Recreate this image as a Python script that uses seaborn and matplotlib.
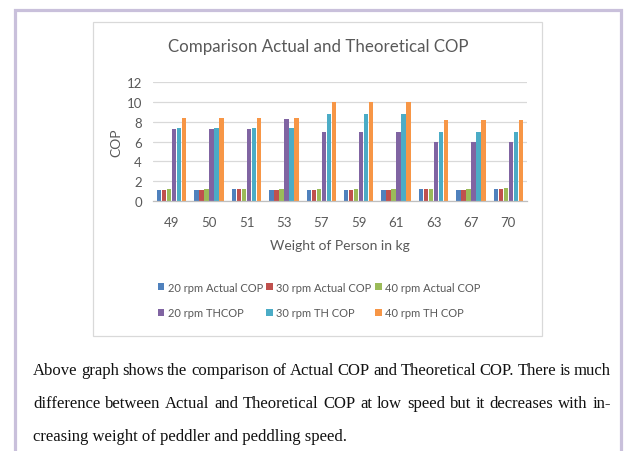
import matplotlib
matplotlib.use("Agg")
import matplotlib.pyplot as plt
import seaborn as sns
import pandas as pd
from matplotlib.patches import Rectangle, Patch

weights = ["49", "50", "51", "53", "57", "59", "61", "63", "67", "70"]
act20 = [1.1, 1.1, 1.2, 1.1, 1.1, 1.1, 1.1, 1.2, 1.1, 1.2]
act30 = [1.1, 1.1, 1.2, 1.1, 1.1, 1.1, 1.1, 1.2, 1.1, 1.2]
act40 = [1.2, 1.2, 1.25, 1.2, 1.2, 1.2, 1.2, 1.2, 1.2, 1.3]
th20 = [7.3, 7.3, 7.3, 8.3, 7.0, 7.0, 7.0, 6.0, 6.0, 6.0]
th30 = [7.4, 7.4, 7.4, 7.4, 8.8, 8.8, 8.8, 7.0, 7.0, 7.0]
th40 = [8.4, 8.4, 8.4, 8.4, 10.0, 10.0, 10.0, 8.2, 8.2, 8.2]
series_names = ["20 rpm Actual COP", "30 rpm Actual COP", "40 rpm Actual COP",
                "20 rpm THCOP", "30 rpm TH COP", "40 rpm TH COP"]
colors = ["#4F81BD", "#C0504D", "#9BBB59", "#8064A2", "#4BACC6", "#F79646"]
yticks = [0, 2, 4, 6, 8, 10, 12]
title = "Comparison Actual and Theoretical COP"
xlabel = "Weight of Person in kg"
ylabel = "COP"
para = ["Above graph shows the comparison of Actual COP and Theoretical COP. There is much",
        "difference between Actual and Theoretical COP at low speed but it decreases with in-",
        "creasing weight of peddler and peddling speed."]

series_values = [act20, act30, act40, th20, th30, th40]
rows = []
for name, vals in zip(series_names, series_values):
    for w, v in zip(weights, vals):
        rows.append({"Weight": w, "COP": v, "Series": name})
df = pd.DataFrame(rows)

sns.set_style("white")
CHART_FONT = ["Lato", "DejaVu Sans"]
plt.rcParams["font.family"] = CHART_FONT

W, H = 627, 452
fig = plt.figure(figsize=(W / 100, H / 100), dpi=100)
fig.patch.set_facecolor("white")

def fx(px):
    return px / W

def fy(py):
    return 1 - py / H

# page border (lavender)
fig.add_artist(Rectangle((fx(14.5), fy(470)), fx(606.5), fy(11) - fy(470),
                         transform=fig.transFigure, fill=False,
                         edgecolor="#C9C0DB", linewidth=2.3))
# chart box
fig.add_artist(Rectangle((fx(92.5), fy(336.5)), fx(449.5), fy(22.5) - fy(336.5),
                         transform=fig.transFigure, fill=False,
                         edgecolor="#D9D9D9", linewidth=0.9))

ax = fig.add_axes([fx(153), fy(202), fx(527) - fx(153), fy(83) - fy(202)])
sns.barplot(data=df, x="Weight", y="COP", hue="Series", hue_order=series_names,
            palette=colors, order=weights, width=0.80, gap=0.12, ax=ax,
            legend=False, saturation=1, edgecolor="none")
ax.set_ylim(0, 12)
ax.set_yticks(yticks)
ax.set_xlim(-0.5, len(weights) - 0.5)
for s in ["top", "right", "left"]:
    ax.spines[s].set_visible(False)
ax.spines["bottom"].set_color("#BFBFBF")
ax.spines["bottom"].set_linewidth(0.9)
ax.yaxis.grid(True, color="#D9D9D9", linewidth=0.9)
ax.set_axisbelow(True)
ax.tick_params(axis="both", length=0, labelsize=9.5, labelcolor="#595959")
ax.tick_params(axis="x", pad=11)
ax.tick_params(axis="y", pad=8)
ax.set_xlabel(xlabel, fontsize=10, color="#595959", labelpad=8)
ax.set_ylabel(ylabel, fontsize=10, color="#595959", labelpad=3)
ax.patch.set_alpha(0)

fig.text(fx(318), fy(47), title, ha="center", va="center", fontsize=12.2,
         color="#595959")

# legend: order handles column-major so rows read 20/30/40
handles = [Patch(facecolor=c, edgecolor="none") for c in colors]
order = [0, 3, 1, 4, 2, 5]
leg = fig.legend([handles[i] for i in order], [series_names[i] for i in order],
                 ncol=3, loc="center", bbox_to_anchor=(fx(319), fy(301)),
                 frameon=False, fontsize=8, handlelength=0.6, handleheight=0.6,
                 handletextpad=0.3, columnspacing=0.3, labelspacing=1.3,
                 labelcolor="#595959")

# justified paragraph
SERIF = ["Liberation Serif", "DejaVu Serif"]
FS = 12
renderer = fig.canvas.get_renderer()
x_left, x_right = 33, 611
baselines = [375, 408, 441]
for i, (line, yb) in enumerate(zip(para, baselines)):
    if i == len(para) - 1:
        fig.text(fx(x_left), fy(yb), line, fontsize=FS, family=SERIF, color="#111111",
                 va="baseline", ha="left")
        continue
    words = line.split()
    texts = [fig.text(0, fy(yb), w, fontsize=FS, family=SERIF, color="#111111",
                      va="baseline", ha="left") for w in words]
    widths = [t.get_window_extent(renderer).width for t in texts]
    gap = (x_right - x_left - sum(widths)) / (len(words) - 1)
    x = x_left
    for t, w in zip(texts, widths):
        t.set_x(fx(x))
        x += w + gap

fig.savefig("out.png", dpi=100)
